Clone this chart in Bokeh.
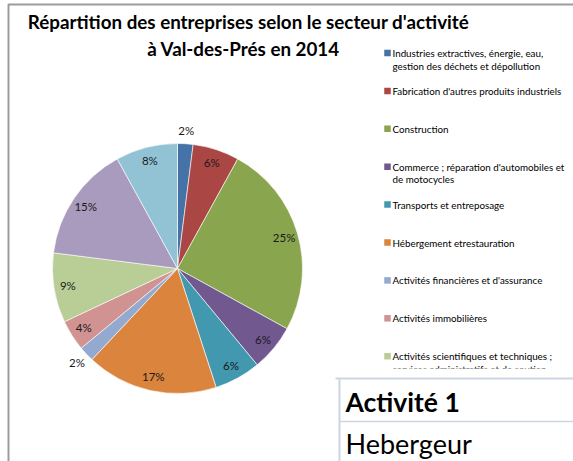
import numpy as np
from bokeh.plotting import figure
from bokeh.models import Range1d
from bokeh.embed import file_html
from bokeh.resources import INLINE
from bokeh.core.properties import value

# ---------------- data ----------------
title_lines = ["Répartition des entreprises selon le secteur d'activité",
               "à Val-des-Prés en 2014"]

sectors = [
    "Industries extractives, énergie, eau,\ngestion des déchets et dépollution",
    "Fabrication d'autres produits industriels",
    "Construction",
    "Commerce ; réparation d'automobiles et\nde motocycles",
    "Transports et entreposage",
    "Hébergement etrestauration",
    "Activités financières et d'assurance",
    "Activités immobilières",
    "Activités scientifiques et techniques ;\nservices administratifs et de soutien",
    "Administration publique, enseignement,\nsanté humaine et action sociale",
    "Autres activités de services",
]
shares = [2, 6, 25, 6, 6, 17, 2, 4, 9, 15, 8]
colors = ["#4572A7", "#AA4643", "#89A54E", "#71588F", "#4198AF", "#DB843D",
          "#93A9CF", "#D19392", "#B9CD96", "#A99BBD", "#92C3D5"]
legend_count = 9  # entries visible in the picture

table_header = "Activité 1"
table_value = "Hebergeur"

# ---------------- layout ----------------
W, H = 573, 461
FONT = value("Lato")

def sy(y):
    return H - y

p = figure(width=W, height=H, x_range=Range1d(0, W), y_range=Range1d(0, H),
           output_backend="svg", toolbar_location=None, min_border=0,
           x_axis_type=None, y_axis_type=None)
p.grid.visible = False
p.outline_line_color = None
p.background_fill_color = "white"
p.border_fill_color = "white"

# frame lines
p.line(x=[8, 8, W], y=[0, sy(4), sy(4)], line_color="#9c9c9c", line_width=2)

# title
title_y = [21, 48]
p.text(x=[248, 243], y=[sy(v) for v in title_y], text=title_lines,
       text_font=FONT, text_font_size="18.8px", text_font_style="bold",
       text_align="center", text_baseline="middle", text_color="#000000")

# pie
cx, cy, R = 177, 268, 125
vals = np.array(shares, dtype=float)
cum = np.concatenate([[0], np.cumsum(vals)]) / vals.sum() * 2 * np.pi
starts = np.pi / 2 - cum[1:]
ends = np.pi / 2 - cum[:-1]
p.wedge(x=cx, y=sy(cy), radius=R, radius_units="screen",
        start_angle=list(starts), end_angle=list(ends), direction="anticlock",
        fill_color=colors, line_color="white", line_width=0.6)

mids = np.pi / 2 - (cum[1:] + cum[:-1]) / 2
rl = np.where(vals >= 3, 111, 138)
lx = cx + rl * np.cos(mids)
ly = sy(cy) + rl * np.sin(mids)
p.text(x=list(lx), y=list(ly), text=[f"{int(v)}%" for v in shares],
       text_font=FONT, text_font_size="11.5px", text_align="center",
       text_baseline="middle", text_color="#1a1a1a")

# legend
ly0, lstep, lline = 52.5, 37.9, 12.5
sq_x, sq_y, tx, ty, tt = [], [], [], [], []
for i in range(legend_count):
    y0 = ly0 + i * lstep
    sq_x.append(387)
    sq_y.append(sy(y0))
    for j, part in enumerate(sectors[i].split("\n")):
        tx.append(392)
        ty.append(sy(y0 + j * lline))
        tt.append(part)
p.scatter(x=sq_x, y=sq_y, marker="square", size=6.5, fill_color=colors[:legend_count],
          line_color=None)
p.text(x=tx, y=ty, text=tt, text_font=FONT, text_font_size="9.8px",
       text_align="left", text_baseline="middle", text_color="#000000")

# overlay (spreadsheet cells)
p.quad(left=336, right=W, bottom=0, top=sy(368), fill_color="white", line_color=None)
p.line(x=[335, W], y=[sy(378), sy(378)], line_color="#cdd5e3", line_width=2)
p.line(x=[339, 339], y=[sy(378), 0], line_color="#cdd5e3", line_width=2)
p.line(x=[339, W], y=[sy(421), sy(421)], line_color="#cdd5e3", line_width=1.5)
p.text(x=[345], y=[sy(401)], text=[table_header], text_font=FONT,
       text_font_size="26.5px", text_font_style="bold", text_align="left",
       text_baseline="middle", text_color="#000000")
p.text(x=[345], y=[sy(443)], text=[table_value], text_font=FONT,
       text_font_size="27px", text_align="left", text_baseline="middle",
       text_color="#000000")

open("out.html", "w").write(file_html(p, INLINE))
